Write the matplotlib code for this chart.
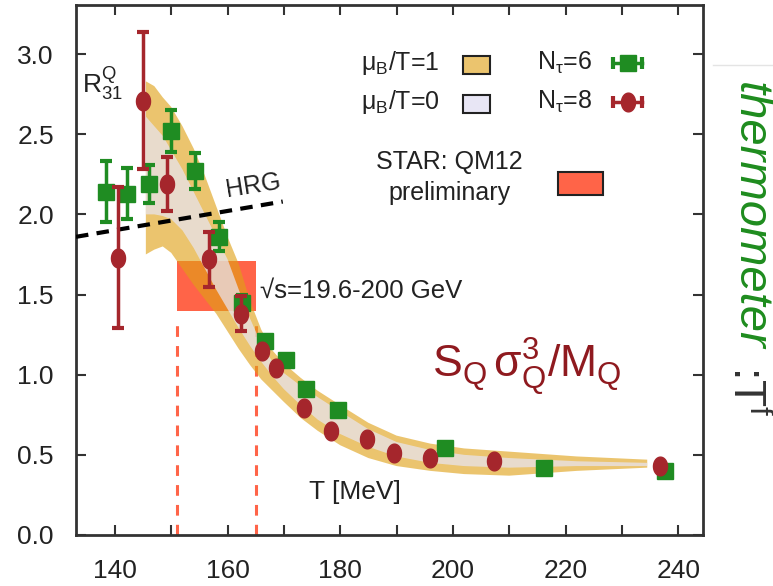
import numpy as np
import matplotlib
matplotlib.use("Agg")
import matplotlib.pyplot as plt
from matplotlib.patches import Rectangle
from matplotlib.lines import Line2D

plt.rcParams['font.family'] = ['Liberation Sans', 'DejaVu Sans']
plt.rcParams['mathtext.fontset'] = 'custom'
plt.rcParams['mathtext.rm'] = 'Liberation Sans'
plt.rcParams['mathtext.it'] = 'Liberation Sans:italic'

# lattice points, N_tau = 6
T6 = [138.4, 142.1, 146.0, 149.9, 154.2, 158.5, 162.6, 166.6, 170.4, 173.9, 179.6, 198.6, 216.2, 237.6]
R6 = [2.14, 2.13, 2.19, 2.52, 2.27, 1.86, 1.45, 1.21, 1.09, 0.91, 0.78, 0.54, 0.42, 0.40]
E6 = [0.19, 0.16, 0.12, 0.13, 0.11, 0.09, 0.05, 0.03, 0, 0, 0, 0, 0, 0]

# lattice points, N_tau = 8
T8 = [140.5, 145.0, 149.2, 156.7, 162.4, 166.1, 168.6, 173.6, 178.4, 184.8, 189.6, 195.9, 207.3, 236.8]
R8 = [1.73, 2.71, 2.19, 1.72, 1.38, 1.15, 1.04, 0.79, 0.65, 0.60, 0.51, 0.48, 0.46, 0.43]
E8 = [0.44, 0.43, 0.17, 0.17, 0.11, 0, 0, 0, 0, 0, 0, 0, 0, 0]

# continuum bands: mu_B/T = 1 (outer) and mu_B/T = 0 (inner)
band_T = [145.5, 147, 148.5, 150, 152, 154, 156, 158, 160, 162, 164, 166, 168, 170,
          173, 176, 180, 185, 190, 196, 202, 210, 222, 234.5]
mu1_hi = [2.83, 2.80, 2.73, 2.67, 2.55, 2.41, 2.24, 2.05, 1.86, 1.69, 1.46, 1.28, 1.15, 1.07,
          0.98, 0.90, 0.81, 0.70, 0.62, 0.57, 0.54, 0.52, 0.49, 0.47]
mu1_lo = [1.75, 1.78, 1.80, 1.76, 1.66, 1.56, 1.47, 1.38, 1.27, 1.16, 1.06, 0.97, 0.90, 0.83,
          0.73, 0.65, 0.56, 0.48, 0.43, 0.40, 0.38, 0.37, 0.40, 0.42]
mu0_hi = [2.61, 2.55, 2.49, 2.40, 2.28, 2.14, 2.00, 1.86, 1.72, 1.53, 1.35, 1.19, 1.08, 1.01,
          0.93, 0.86, 0.77, 0.66, 0.58, 0.53, 0.50, 0.48, 0.46, 0.45]
mu0_lo = [2.00, 2.00, 1.99, 1.97, 1.90, 1.79, 1.66, 1.53, 1.41, 1.29, 1.18, 1.08, 0.99, 0.91,
          0.81, 0.72, 0.63, 0.55, 0.49, 0.45, 0.43, 0.42, 0.43, 0.43]

# hadron resonance gas line
hrg_T = [133.1, 169.8]
hrg_R = [1.86, 2.08]

# STAR freeze-out window
star_T = [151.0, 165.0]
star_R = [1.40, 1.71]

green = '#1f8c22'
red = '#a5262c'
orange = (223/255, 161/255, 21/255)
lavender = (232/255, 230/255, 245/255)
tomato = '#ff6448'

fig = plt.figure(figsize=(7.73, 5.86), dpi=100)
ax = fig.add_axes([76/773, 1 - 535/586, (703 - 76)/773, (535 - 5)/586])

ax.add_patch(Rectangle((star_T[0], star_R[0]), star_T[1] - star_T[0], star_R[1] - star_R[0],
                       facecolor=tomato, edgecolor='none', zorder=1))
for t in star_T:
    ax.plot([t, t], [0, star_R[0] - 0.05], color=tomato, lw=2.2, dashes=(3.5, 3), zorder=1)

ax.fill_between(band_T, mu1_lo, mu1_hi, facecolor=orange, alpha=0.62, lw=0, zorder=2)
ax.fill_between(band_T, mu0_lo, mu0_hi, facecolor=lavender, alpha=0.7, lw=0, zorder=3)

ax.plot(hrg_T, hrg_R, color='black', lw=3, dashes=(3, 2), zorder=4)

th = np.linspace(0, 2 * np.pi, 41)
oval = np.column_stack([0.75 * np.cos(th), np.sin(th)])

ax.errorbar(T6, R6, yerr=E6, fmt='s', ms=12, color=green, ecolor=green,
            elinewidth=2.5, capsize=4, capthick=3, zorder=5)
ax.errorbar(T8, R8, yerr=E8, fmt='none', ecolor=red,
            elinewidth=2.5, capsize=4, capthick=3, zorder=6)
ax.plot(T8, R8, ls='none', marker=oval, ms=13.5, color=red, zorder=6)

ax.set_xticks(np.arange(140, 241, 20))
ax.set_xticks(np.arange(140, 241, 10), minor=True)
ax.set_yticks(np.arange(0, 3.01, 0.5))
ax.set_yticklabels(['%.1f' % v for v in np.arange(0, 3.01, 0.5)])
ax.set_xlim(133.1, 244.4)
ax.set_ylim(0, 3.306)
ax.tick_params(which='both', direction='in', top=True, right=True, length=7, width=1.5,
               color='#333333', labelcolor='#222222', labelsize=19)
ax.tick_params(axis='x', pad=17)
ax.tick_params(axis='y', pad=16)
for s in ax.spines.values():
    s.set_linewidth(2)
    s.set_color('#333333')

ax.text(134.1, 2.76, r'R$_{\mathregular{31}}^{\mathregular{Q}}$', fontsize=19, color='#222222')
ax.text(164.5, 2.18, 'HRG', fontsize=18, rotation=9, ha='center', va='center', color='#222222')
ax.text(165.8, 1.52, '\u221as=19.6-200 GeV', fontsize=18.5, va='center', color='#222222')
ax.text(182.6, 0.27, 'T [MeV]', fontsize=19, ha='center', va='center', color='#222222')
ax.text(196.3, 0.98, r'S$_{\mathregular{Q}}$$\,$σ$_{\mathregular{Q}}^{\mathregular{3}}$/M$_{\mathregular{Q}}$',
        fontsize=32, color='#8f1a1f')

# key
tr = ax.transAxes
kw = dict(transform=tr, fontsize=18, color='#222222', va='center')
ax.text(0.580, 0.891, r'μ$_{\mathregular{B}}$/T=1', ha='right', **kw)
ax.text(0.580, 0.817, r'μ$_{\mathregular{B}}$/T=0', ha='right', **kw)
ax.add_patch(Rectangle((0.617, 0.870), 0.044, 0.034, transform=tr, facecolor=orange,
                       alpha=0.62, edgecolor='none'))
ax.add_patch(Rectangle((0.617, 0.870), 0.044, 0.034, transform=tr, facecolor='none',
                       edgecolor='#222222', lw=1.5))
ax.add_patch(Rectangle((0.617, 0.797), 0.044, 0.034, transform=tr, facecolor=lavender,
                       edgecolor='#222222', lw=1.5))
ax.text(0.824, 0.891, r'N$_{\mathregular{τ}}$=6', ha='right', **kw)
ax.text(0.824, 0.817, r'N$_{\mathregular{τ}}$=8', ha='right', **kw)
for yk, c, m, s in [(0.891, green, 's', 12), (0.817, red, oval, 13.5)]:
    ax.plot([0.857, 0.903], [yk, yk], transform=tr, color=c, lw=2.5)
    ax.plot([0.857, 0.903], [yk, yk], transform=tr, ls='none', marker='|', ms=8, mew=3, color=c)
    ax.plot([0.880], [yk], transform=tr, ls='none', marker=m, ms=s, color=c)
ax.text(0.596, 0.703, 'STAR: QM12', ha='center', **kw)
ax.text(0.596, 0.646, 'preliminary', ha='center', **kw)
ax.add_patch(Rectangle((0.768, 0.642), 0.072, 0.043, transform=tr, facecolor=tomato,
                       edgecolor='#222222', lw=1.5))

fig.add_artist(Line2D([713/773, 1.0], [1 - 65/586] * 2, color='#e4e4e4', lw=1))
fig.text(750/773, 1 - 82/586, 'thermometer', rotation=-90, ha='center', va='top',
         fontsize=34, style='italic', color='#1e8c1e')
fig.text(746/773, 1 - 366/586, r':T$^{\mathregular{f}}$', rotation=-90, ha='center', va='top',
         fontsize=32, color='#333333')

fig.savefig('out.png', dpi=100, facecolor='white')
